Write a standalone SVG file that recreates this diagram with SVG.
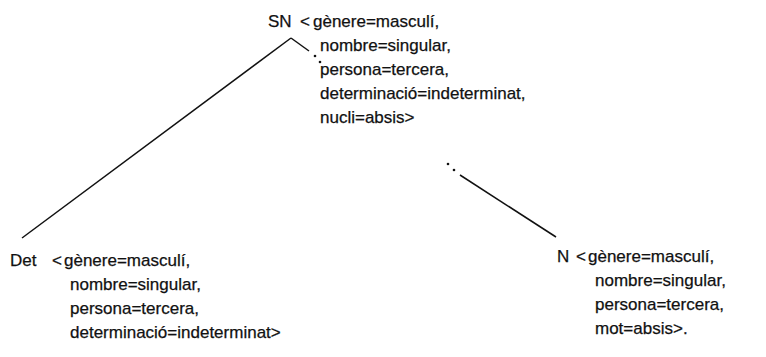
<svg xmlns="http://www.w3.org/2000/svg" width="766" height="357" viewBox="0 0 766 357">
<style>
text { font-family: "Liberation Sans", Arial, sans-serif; font-size: 17px; fill: #111; stroke: #111; stroke-width: 0.25; }
.ln { stroke: #111; stroke-width: 1.5; fill: none; }
.dot { fill: #111; }
</style>
<rect width="766" height="357" fill="#fff"/>
<g id="connectors">
  <line class="ln" x1="291" y1="38" x2="22" y2="238"/>
  <line class="ln" x1="291" y1="38" x2="309" y2="51"/>
  <circle class="dot" cx="315" cy="56" r="1.3"/>
  <circle class="dot" cx="320" cy="62" r="1.3"/>
  <circle class="dot" cx="448" cy="164" r="1.3"/>
  <circle class="dot" cx="454" cy="170" r="1.3"/>
  <line class="ln" x1="460" y1="175" x2="556" y2="237"/>
</g>
<g id="node-SN">
  <text x="268" y="27">SN</text>
  <text x="300" y="27">&lt;</text>
  <text x="313" y="27">gènere=masculí,</text>
  <text x="320" y="51">nombre=singular,</text>
  <text x="320" y="75">persona=tercera,</text>
  <text x="320" y="99">determinació=indeterminat,</text>
  <text x="320" y="123">nucli=absis&gt;</text>
</g>
<g id="node-Det">
  <text x="10" y="266">Det</text>
  <text x="52" y="266">&lt;</text>
  <text x="64" y="266">gènere=masculí,</text>
  <text x="70" y="290">nombre=singular,</text>
  <text x="70" y="314">persona=tercera,</text>
  <text x="70" y="338">determinació=indeterminat&gt;</text>
</g>
<g id="node-N">
  <text x="557" y="262">N</text>
  <text x="576" y="262">&lt;</text>
  <text x="588" y="262">gènere=masculí,</text>
  <text x="595" y="286">nombre=singular,</text>
  <text x="595" y="310">persona=tercera,</text>
  <text x="595" y="334">mot=absis&gt;.</text>
</g>
</svg>
